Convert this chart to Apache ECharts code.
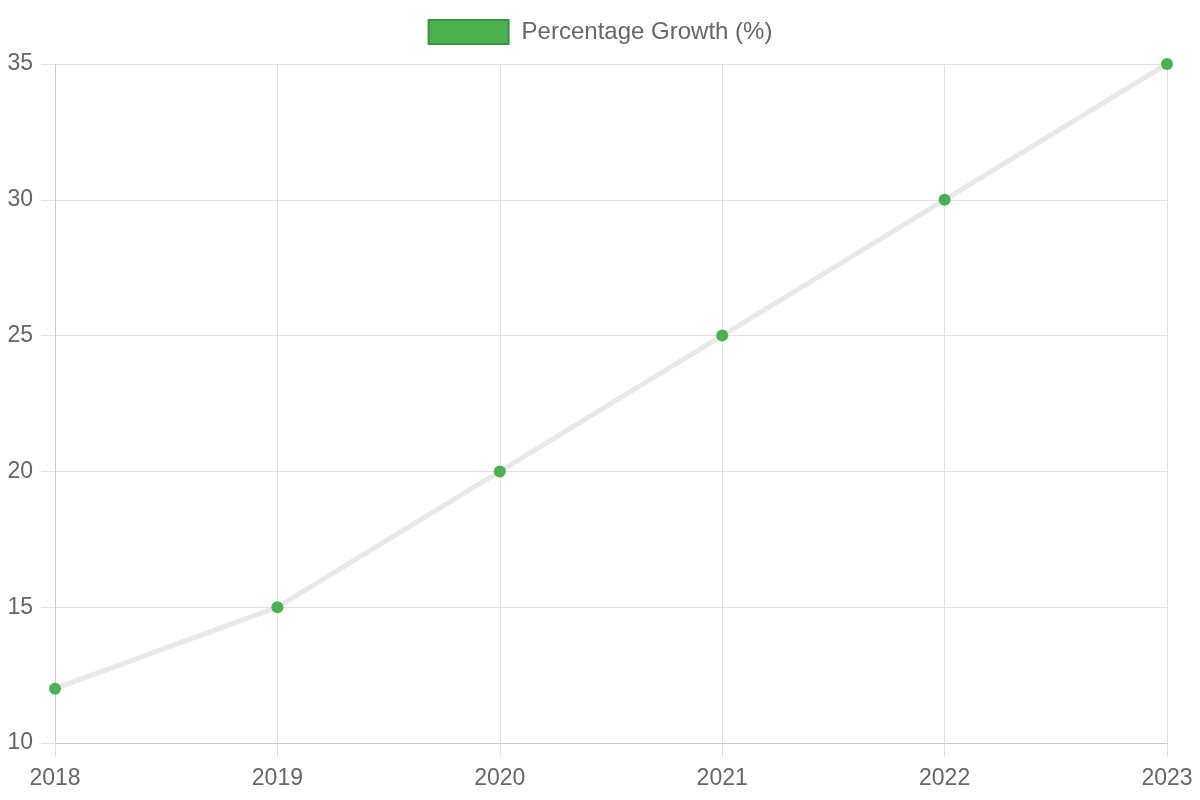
<!DOCTYPE html>
<html>
<head>
<meta charset="utf-8">
<script src="https://cdn.jsdelivr.net/npm/echarts@6/dist/echarts.min.js"></script>
<style>
  html, body { margin: 0; padding: 0; background: #fff; }
  #chart-container { width: 1200px; height: 800px; }
</style>
</head>
<body>
<div id="chart-container"></div>
<script>
// 數據
var years = ['2018', '2019', '2020', '2021', '2022', '2023'];
var growth = [12, 15, 20, 25, 30, 35];
var seriesName = 'Percentage Growth (%)';

var chart = echarts.init(document.getElementById('chart-container'));

var gridColor = '#e0e0e0';
var labelColor = '#666';
var fontFamily = '"Liberation Sans", Arial, sans-serif';

var option = {
    animation: false,
    grid: {
        left: 55,
        right: 33,
        top: 64,
        bottom: 57
    },
    legend: {
        top: 19,
        left: 'center',
        padding: 0,
        itemWidth: 80,
        itemHeight: 24,
        data: [{
            name: seriesName,
            icon: 'rect',
            itemStyle: { color: '#4caf50', borderColor: '#3d9440', borderWidth: 2 }
        }],
        textStyle: {
            color: labelColor,
            fontSize: 24,
            fontFamily: fontFamily,
            padding: [0, 0, 0, 8]
        }
    },
    xAxis: {
        type: 'category',
        boundaryGap: false,
        data: years,
        axisLine: { lineStyle: { color: '#cccccc', width: 1 } },
        axisTick: { show: true, length: 14, alignWithLabel: true, lineStyle: { color: gridColor } },
        splitLine: { show: true, lineStyle: { color: gridColor, width: 1 } },
        axisLabel: { color: labelColor, fontSize: 23, fontFamily: fontFamily, margin: 24 }
    },
    yAxis: {
        type: 'value',
        min: 10,
        max: 35,
        interval: 5,
        axisLine: { show: true, lineStyle: { color: '#cccccc', width: 1 } },
        axisTick: { show: true, length: 14, lineStyle: { color: gridColor } },
        splitLine: { show: true, lineStyle: { color: gridColor, width: 1 } },
        axisLabel: { color: labelColor, fontSize: 23, fontFamily: fontFamily, margin: 22 }
    },
    series: [{
        name: seriesName,
        type: 'line',
        data: growth,
        symbol: 'circle',
        symbolSize: 12,
        itemStyle: { color: '#4caf50' },
        lineStyle: { color: '#e8e8e8', width: 5 },
        z: 3
    }]
};

chart.setOption(option);
</script>
</body>
</html>
